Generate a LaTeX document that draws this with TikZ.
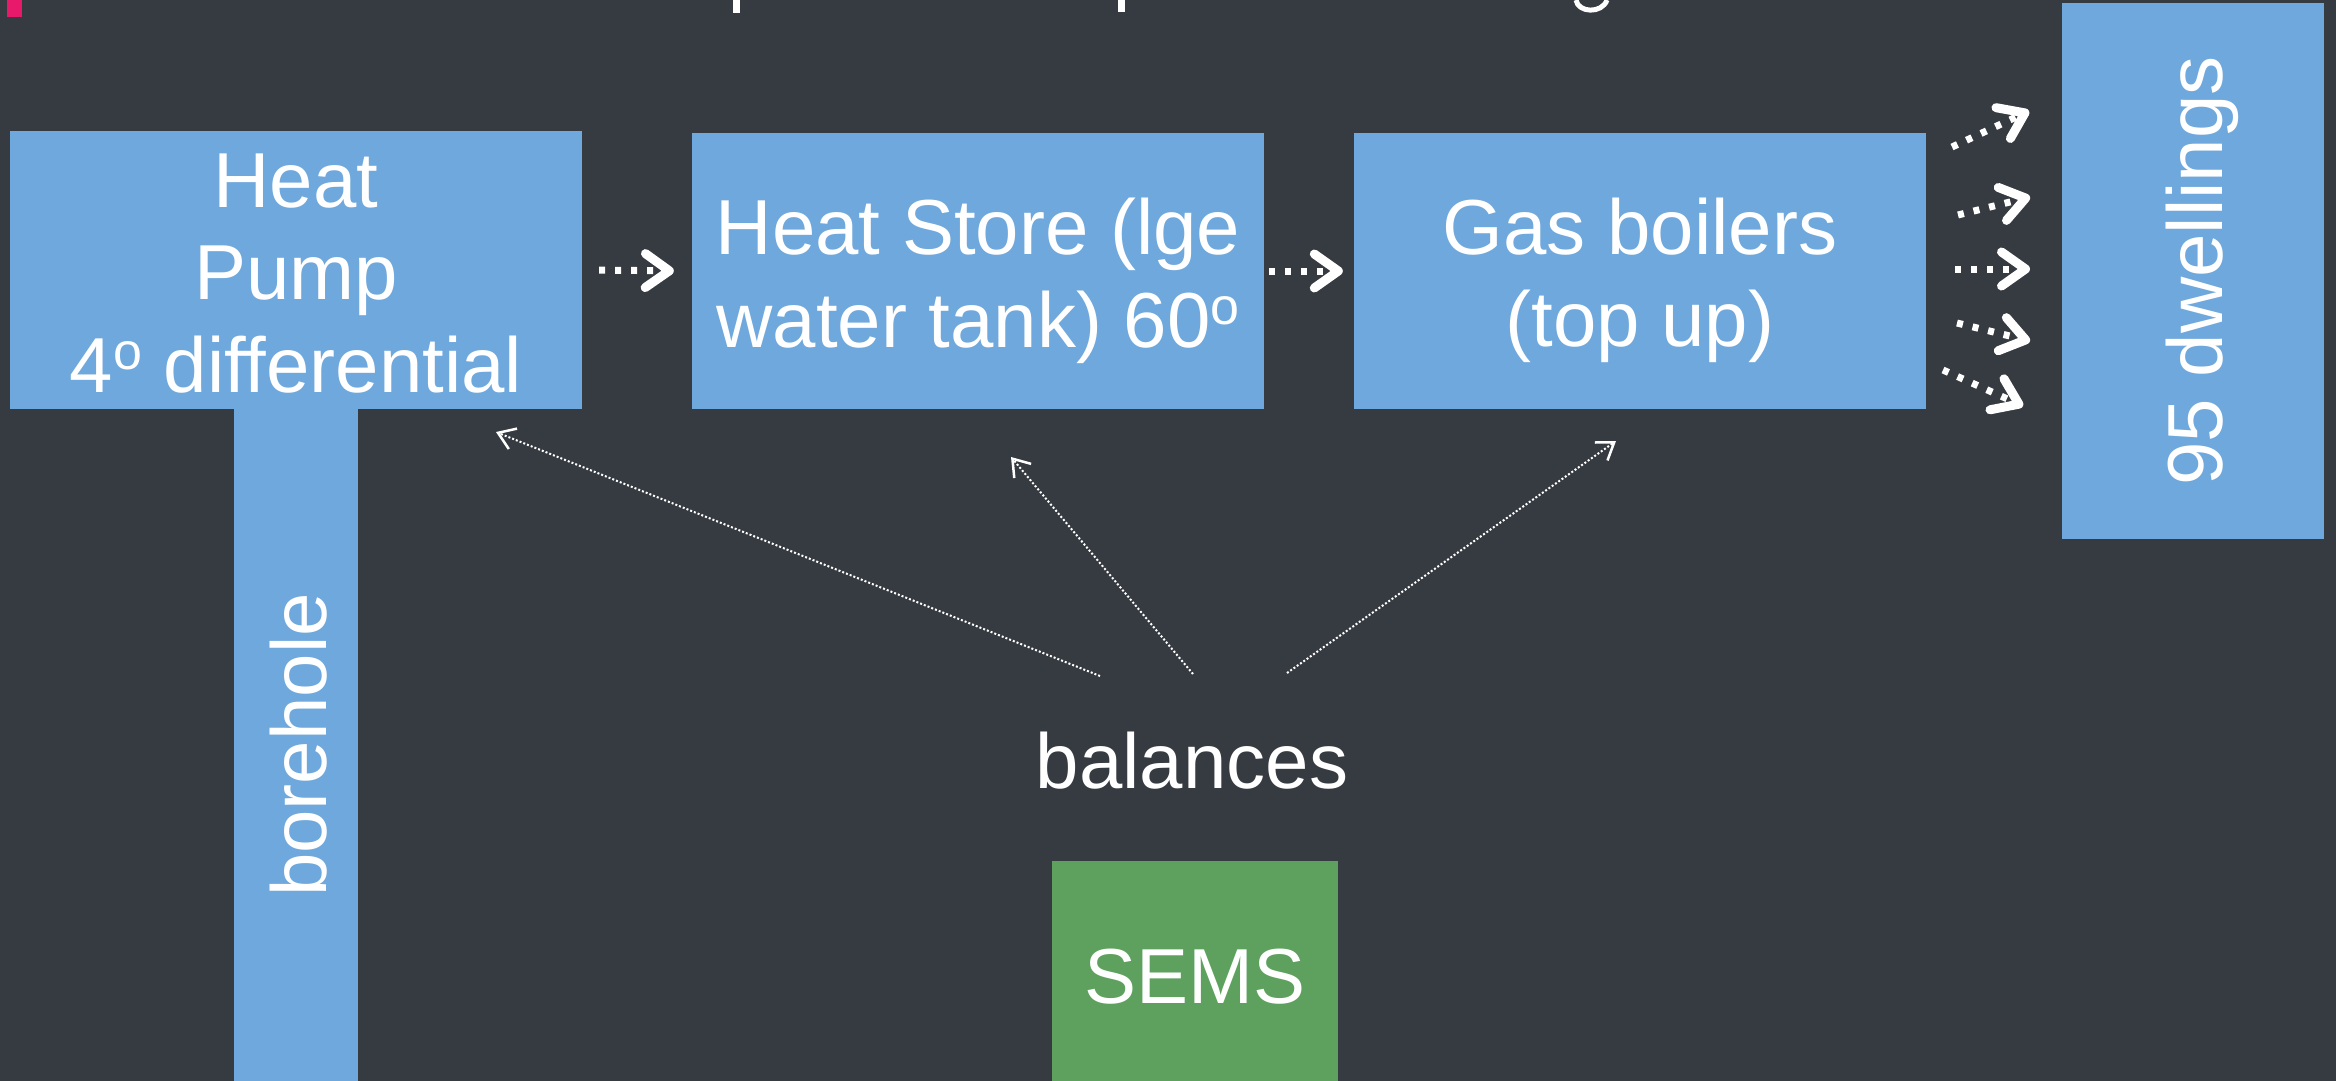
\documentclass[tikz,border=0pt]{standalone}
\usepackage{fontspec}
\setmainfont{Liberation Sans}
\usetikzlibrary{arrows.meta}
\definecolor{bg}{HTML}{363B42}
\definecolor{boxblue}{HTML}{6FA8DC}
\definecolor{boxgreen}{HTML}{5EA15E}
\definecolor{accent}{HTML}{E8196B}
\newcommand\lstrut{\rule[-16pt]{0pt}{92pt}}
\newcommand\supo{\raisebox{23pt}{\fontsize{52}{52}\selectfont o}}
\begin{document}
\begin{tikzpicture}[x=1pt,y=-1pt,
  box/.style={fill=boxblue, text=white, inner sep=0pt, align=center,
    font=\fontsize{78}{92}\selectfont},
  greenbox/.style={box, fill=boxgreen},
  label/.style={text=white, inner sep=0pt, font=\fontsize{78}{92}\selectfont},
  flow/.style={draw=white, line width=7pt, dash pattern=on 6pt off 10pt,
    -{Straight Barb[length=24pt, width=34pt, line width=9pt, round]}},
  ctrl/.style={draw=white, line width=2pt, dash pattern=on 2pt off 2pt,
    -{Straight Barb[length=16pt, width=22pt, line width=2.5pt]}},
  frag/.style={fill=white, draw=none}
]
\fill[bg] (0,0) rectangle (2336,1081);
\useasboundingbox (0,0) rectangle (2336,1081);
\clip (0,0) rectangle (2336,1081);

% cut-off title remnants
\fill[accent] (7,0) rectangle (22,17);
\fill[frag] (733,0) rectangle (740,13);
\fill[frag] (1118,0) rectangle (1125,12);
\draw[white, line width=5pt] (1576,0) .. controls (1578,13) and (1602,14) .. (1607,0);

% boxes
\node[box, minimum width=572pt, minimum height=278pt] (hp) at (296,270)
  {\lstrut Heat\\\lstrut Pump\\\lstrut 4\supo\ differential};
\node[box, rotate=90, minimum width=672pt, minimum height=124pt] (bh) at (296,745)
  {\lstrut borehole};
\node[box, minimum width=572pt, minimum height=276pt] (hs) at (978,271)
  {\lstrut Heat Store (lge\\\lstrut water tank) 60\supo};
\node[box, minimum width=572pt, minimum height=276pt] (gb) at (1640,271)
  {\lstrut Gas boilers\\\lstrut (top up)};
\node[box, rotate=90, minimum width=536pt, minimum height=262pt] (dw) at (2193,271)
  {\lstrut 95 dwellings};
\node[greenbox, minimum width=286pt, minimum height=224pt] (sems) at (1195,973)
  {\lstrut SEMS};
\node[label] (bal) at (1192,758) {\lstrut balances};

% main flow
\draw[flow, shorten <=17pt, shorten >=18pt] (hp.east) -- (hs.west);
\draw[flow, shorten <=5pt, shorten >=11pt] (hs.east) -- (gb.west);

% fan into dwellings
\coordinate (fa1) at (1952,147); \coordinate (ta1) at (2029,111);
\coordinate (fa2) at (1958,215); \coordinate (ta2) at (2030,197);
\coordinate (fa3) at (1955,269); \coordinate (ta3) at (2030,269);
\coordinate (fa4) at (1957,323); \coordinate (ta4) at (2030,341);
\coordinate (fa5) at (1943,370); \coordinate (ta5) at (2023,406);
\foreach \i in {1,...,5} \draw[flow] (fa\i) -- (ta\i);

% control links from balances
\coordinate (c1) at (1100,676); \coordinate (d1) at (496,432);
\coordinate (c2) at (1193,674); \coordinate (d2) at (1011,457);
\coordinate (c3) at (1287,673); \coordinate (d3) at (1616,441);
\draw[ctrl] (c1) -- (d1);
\draw[ctrl] (c2) -- (d2);
\draw[ctrl] (c3) -- (d3);
\end{tikzpicture}
\end{document}
